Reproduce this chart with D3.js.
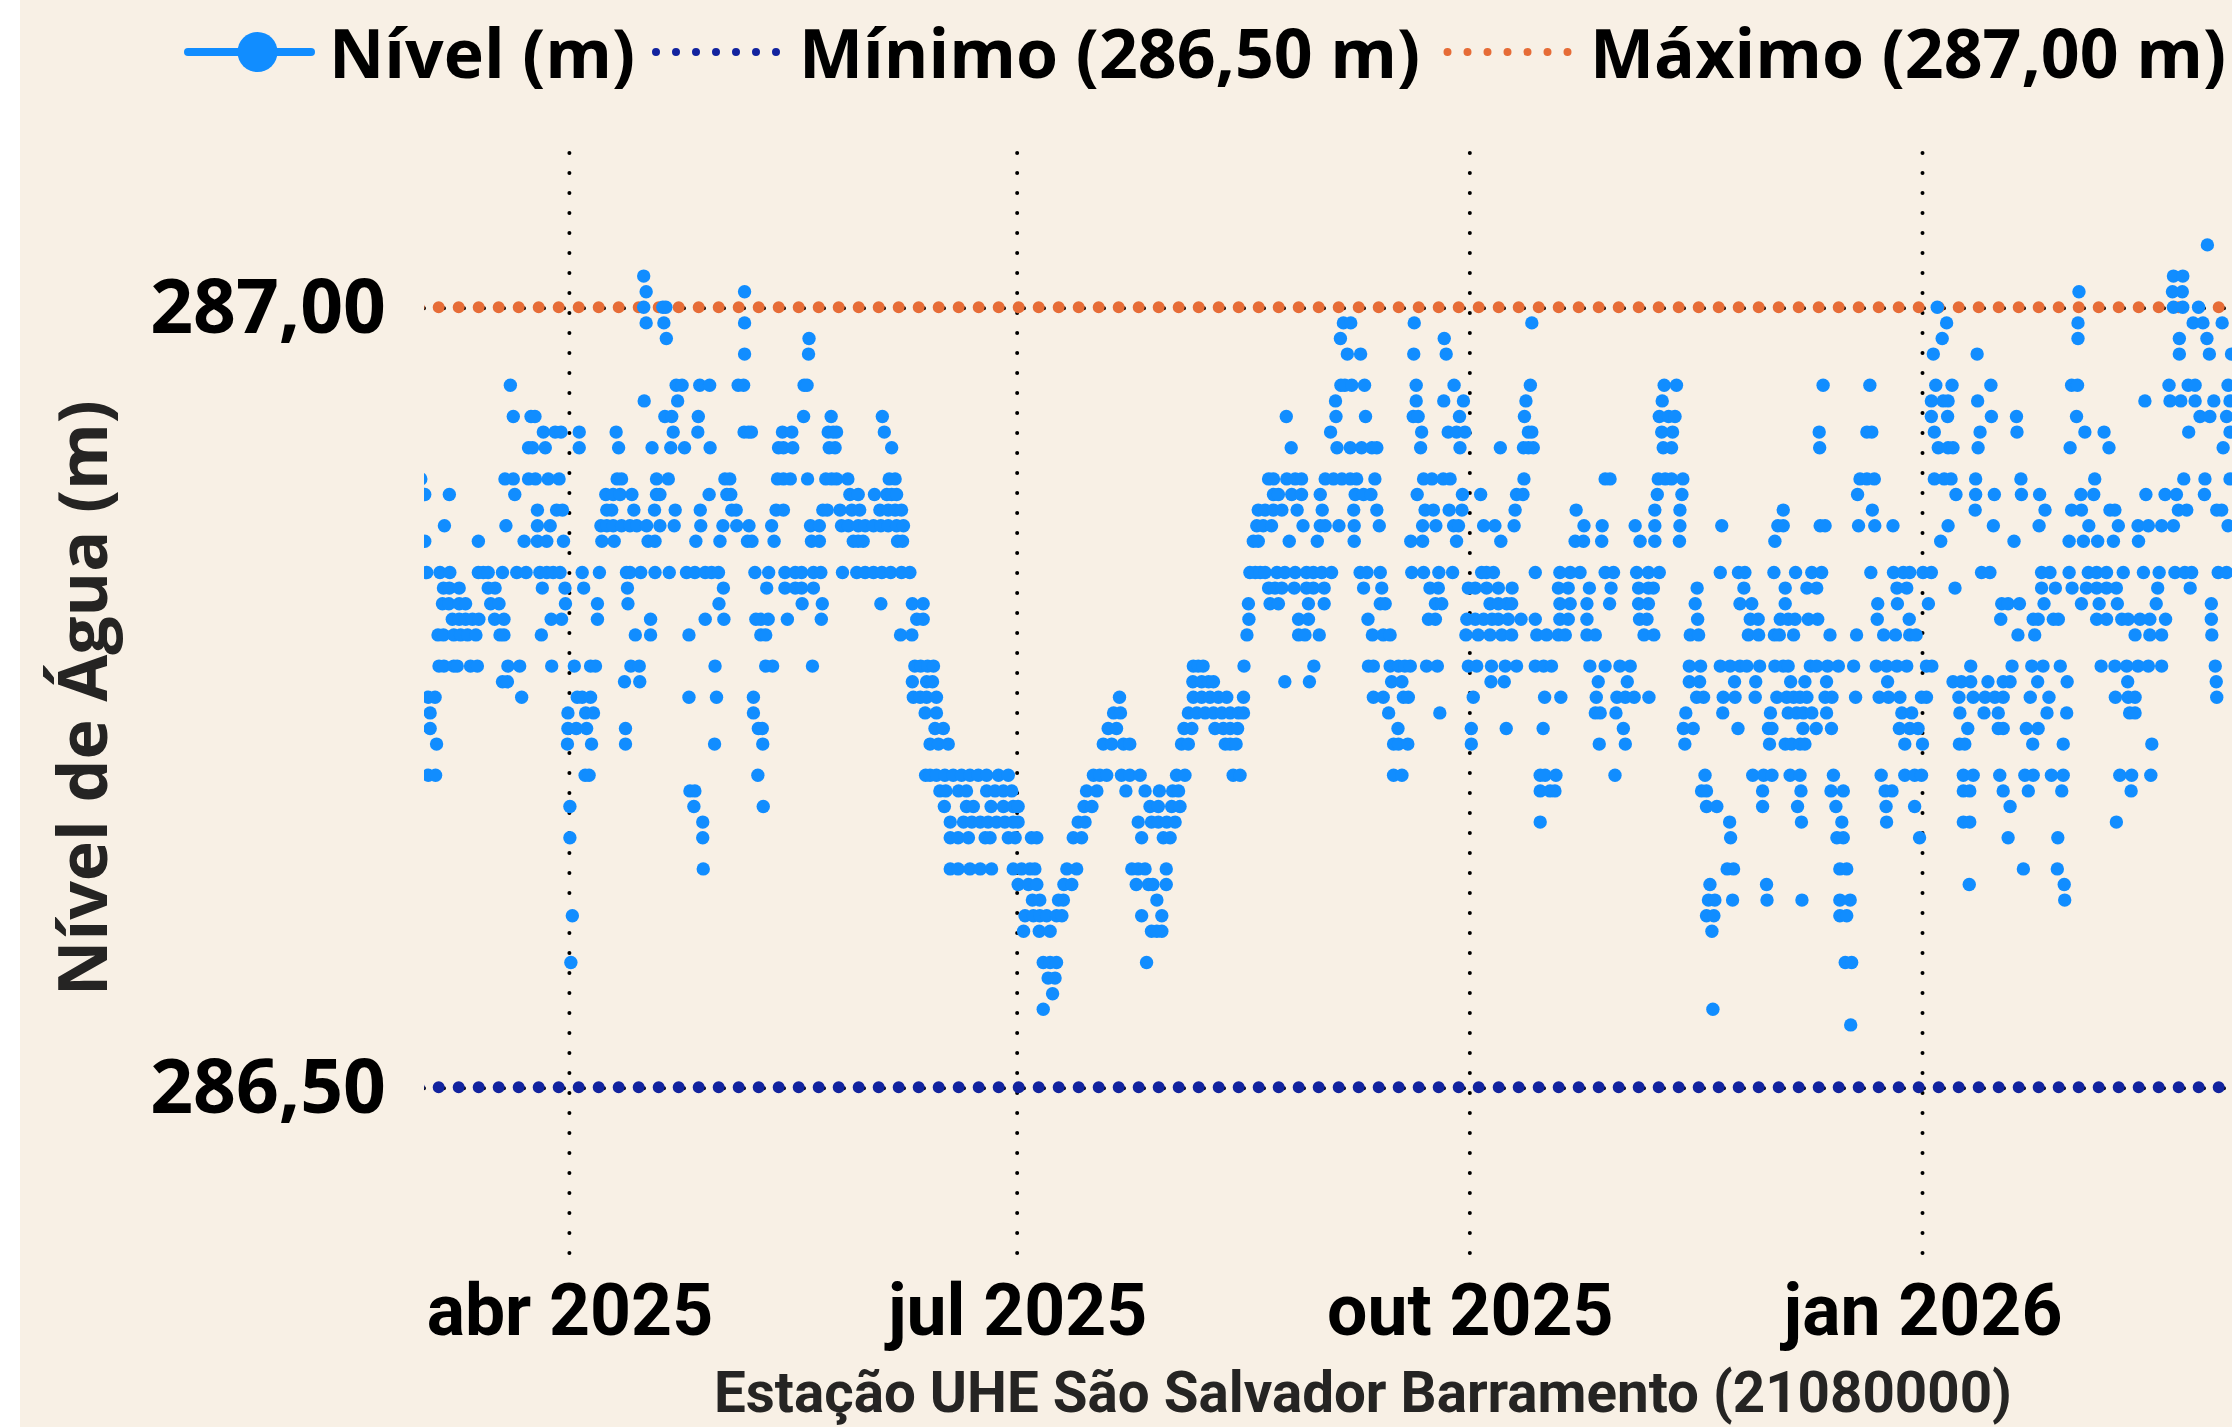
<!DOCTYPE html>
<html lang="pt-BR">
<head>
    <meta charset="UTF-8">
    <title>Nível de Água</title>
    <script src="https://cdnjs.cloudflare.com/ajax/libs/d3/7.8.5/d3.min.js"></script>
    <style>
        html, body {
            margin: 0;
            padding: 0;
            background: #fff;
            overflow: hidden;
        }
        svg {
            display: block;
        }
        .tick line, .domain {
            display: none;
        }
        .legend-label {
            font-family: "Open Sans", sans-serif;
            font-weight: 700;
            font-size: 68px;
            fill: #000;
        }
        .y-axis text {
            font-family: "Open Sans", sans-serif;
            font-weight: 700;
            font-size: 75px;
            fill: #000;
        }
        .x-axis text {
            font-family: Roboto, sans-serif;
            font-weight: 700;
            font-size: 71.5px;
            fill: #000;
        }
        .y-title {
            font-family: "Open Sans", sans-serif;
            font-weight: 700;
            font-size: 68px;
            fill: #252423;
            text-anchor: middle;
        }
        .x-title {
            font-family: Roboto, sans-serif;
            font-weight: 700;
            font-size: 56.5px;
            fill: #252423;
            text-anchor: middle;
        }
    </style>
</head>
<body>
    <div id="wrapper"></div>
    <script>
        // leituras do gráfico: dias contados a partir de 1 abr 2025, agrupados por nível (m)
        const levels = [287.04, 287.02, 287.01, 287.00, 286.99, 286.98, 286.97, 286.95, 286.94, 286.93,
            286.92, 286.91, 286.89, 286.88, 286.87, 286.86, 286.85, 286.83, 286.82, 286.81,
            286.80, 286.79, 286.77, 286.76, 286.75, 286.74, 286.73, 286.72, 286.70, 286.69,
            286.68, 286.67, 286.66, 286.64, 286.63, 286.62, 286.61, 286.60, 286.58, 286.57,
            286.56, 286.55, 286.54]
        const daysAtLevel = [
            [332.9],
            [15.1, 326.0, 327.9],
            [15.6, 35.6, 306.8, 325.8, 327.8],
            [15.1, 19.0, 19.6, 278.0, 326.0, 327.9, 331.1],
            [15.6, 19.2, 35.6, 157.3, 158.8, 171.7, 195.6, 279.9, 306.6, 330.0, 332.0, 335.9],
            [19.7, 48.7, 156.7, 177.8, 279.0, 306.6, 327.2, 332.8],
            [35.6, 48.6, 158.1, 160.8, 171.6, 178.2, 277.2, 286.1, 327.2, 333.3, 337.8],
            [-12.0, 21.7, 22.9, 26.5, 28.5, 34.3, 35.4, 47.7, 48.3, 156.8, 157.6, 159.0, 161.6, 172.1, 179.8, 195.3, 222.5, 225.0, 254.8, 264.3, 277.7, 281.0, 288.9, 305.3, 306.5, 325.1, 329.0, 330.4, 337.1],
            [15.2, 22.0, 155.7, 172.1, 177.7, 181.7, 194.4, 222.1, 276.8, 279.2, 280.2, 286.2, 320.2, 325.3, 327.5, 330.4, 334.2, 337.5],
            [-11.4, -7.8, -7.0, 19.4, 20.8, 26.2, 47.6, 53.2, 63.6, 145.7, 155.8, 161.8, 171.5, 172.5, 180.9, 194.1, 221.5, 223.4, 224.7, 276.8, 280.1, 289.0, 294.1, 306.3, 331.4, 333.4, 336.8],
            [-5.3, -2.9, -1.7, 2.0, 9.5, 21.1, 26.1, 35.5, 36.4, 37.0, 43.3, 45.2, 52.6, 53.6, 54.3, 64.0, 154.7, 173.2, 178.6, 180.3, 182.0, 194.9, 195.6, 222.0, 224.2, 254.0, 263.7, 264.7, 277.4, 286.7, 294.2, 308.0, 311.9, 329.1, 337.5],
            [-8.3, -7.5, -4.9, 2.0, 10.0, 16.8, 20.6, 23.4, 28.6, 42.5, 43.5, 45.4, 52.8, 54.0, 65.5, 146.7, 156.0, 158.7, 161.0, 163.1, 164.1, 173.0, 181.0, 189.2, 193.9, 194.9, 195.9, 222.3, 224.0, 254.1, 278.2, 280.2, 281.2, 286.3, 305.0, 312.9, 336.1],
            [-30.2, -13.1, -11.4, -8.3, -6.9, -4.3, -2.1, 9.7, 10.6, 17.7, 20.1, 31.6, 32.6, 42.3, 43.5, 44.9, 48.4, 52.1, 53.3, 54.3, 56.6, 65.0, 66.2, 142.1, 143.1, 145.8, 147.5, 148.8, 153.6, 155.3, 157.0, 158.7, 160.0, 163.7, 173.6, 175.3, 177.6, 179.0, 194.0, 210.5, 211.5, 221.3, 222.7, 224.0, 226.3, 262.3, 263.7, 265.2, 277.4, 279.4, 280.8, 285.8, 295.0, 310.0, 328.1, 332.4, 337.5],
            [-29.4, -24.4, -11.1, 7.4, 8.9, 10.3, 12.7, 17.7, 18.4, 28.4, 32.0, 32.8, 57.0, 58.7, 62.0, 64.5, 65.5, 66.5, 143.1, 144.1, 146.8, 148.8, 152.6, 159.7, 161.4, 162.9, 172.3, 181.5, 185.2, 192.5, 193.8, 221.1, 226.1, 261.8, 281.8, 285.8, 289.6, 295.1, 298.8, 307.2, 309.8, 320.4, 324.3, 326.6, 332.3],
            [-6.5, -2.6, -1.4, 7.6, 8.6, 13.1, 17.3, 21.5, 26.6, 33.0, 33.9, 42.0, 43.5, 51.5, 52.4, 55.0, 57.4, 59.0, 63.1, 64.8, 66.2, 67.5, 140.0, 141.4, 143.1, 144.8, 147.9, 153.0, 159.4, 164.1, 173.9, 175.6, 178.8, 181.4, 192.2, 204.6, 220.6, 225.7, 246.7, 264.8, 285.7, 299.9, 305.3, 307.3, 313.1, 314.1, 327.0, 328.7, 334.8, 335.8],
            [-25.4, -12.9, -6.5, -3.9, 6.4, 7.6, 8.9, 10.6, 12.3, 13.7, 15.7, 18.4, 21.3, 26.7, 31.2, 34.0, 36.5, 41.1, 49.0, 50.8, 55.3, 56.7, 58.7, 60.1, 61.8, 63.3, 64.8, 66.5, 67.9, 139.7, 141.0, 142.7, 149.1, 152.6, 153.6, 156.4, 159.5, 164.6, 173.4, 176.1, 179.7, 180.7, 185.8, 188.1, 192.0, 206.2, 209.9, 216.6, 220.6, 225.7, 234.2, 245.6, 246.7, 254.2, 255.2, 262.0, 265.3, 269.0, 280.2, 289.4, 298.7, 308.8, 314.8, 318.8, 320.9, 323.6, 326.0, 337.1],
            [-29.4, -18.5, -9.2, -6.5, -4.6, -1.2, 6.6, 9.1, 16.0, 17.4, 25.7, 30.6, 36.2, 37.1, 41.6, 49.2, 50.8, 57.7, 58.7, 59.7, 66.7, 67.7, 139.0, 140.0, 146.3, 152.0, 159.5, 171.0, 173.4, 180.3, 189.3, 204.4, 206.1, 209.8, 217.6, 220.6, 225.6, 245.0, 278.7, 293.6, 304.8, 307.7, 310.6, 313.8, 318.9],
            [-29.0, -26.3, -24.3, -18.5, -17.5, -16.5, -13.6, -10.7, -8.8, -6.0, -4.6, -3.3, -1.9, 2.6, 6.1, 11.6, 12.3, 14.5, 17.4, 20.3, 23.8, 25.5, 27.6, 28.9, 30.3, 37.7, 40.5, 43.8, 45.9, 47.2, 49.6, 51.1, 55.5, 58.4, 60.1, 61.8, 63.5, 65.3, 67.5, 69.2, 138.3, 139.4, 140.4, 141.4, 143.8, 145.4, 147.5, 149.8, 151.2, 152.9, 154.9, 160.7, 162.1, 164.8, 171.2, 173.6, 176.7, 179.5, 185.4, 186.4, 187.8, 196.3, 201.3, 203.4, 205.4, 210.5, 212.2, 216.9, 219.3, 221.5, 233.9, 237.6, 238.9, 244.8, 249.2, 252.5, 254.5, 264.5, 269.1, 271.1, 272.4, 275.1, 276.8, 287.0, 288.7, 299.2, 300.9, 304.8, 308.7, 310.4, 312.4, 315.8, 319.9, 323.1, 326.3, 328.3, 329.7, 335.1, 336.8],
            [-25.6, -24.4, -22.4, -16.5, -15.1, -5.5, -0.9, 2.9, 11.8, 31.3, 40.1, 43.8, 45.9, 47.2, 49.6, 142.1, 143.4, 144.8, 147.3, 149.8, 151.2, 153.4, 161.4, 165.1, 174.9, 176.6, 182.7, 184.1, 186.4, 188.8, 191.6, 201.0, 203.0, 207.3, 211.7, 217.3, 219.3, 220.3, 229.2, 238.7, 247.1, 251.5, 253.5, 269.8, 271.8, 281.6, 299.2, 302.0, 305.4, 308.3, 310.4, 312.4, 314.4, 322.8, 329.4],
            [-25.8, -24.5, -22.4, -21.1, -16.0, -14.3, -0.8, 5.7, 11.9, 30.4, 47.3, 51.4, 63.3, 69.7, 71.9, 138.0, 142.4, 144.1, 150.2, 153.4, 164.8, 165.8, 176.0, 177.3, 187.1, 188.8, 190.5, 191.5, 201.3, 203.4, 206.8, 211.4, 217.3, 219.3, 228.8, 237.9, 240.3, 247.1, 265.9, 269.9, 276.2, 291.1, 292.4, 294.7, 299.7, 307.3, 310.9, 314.6, 322.5, 333.7],
            [-23.8, -22.4, -21.1, -19.7, -18.4, -15.2, -13.3, -3.7, -1.6, 5.7, 16.5, 27.6, 31.4, 37.9, 38.9, 40.4, 44.3, 51.2, 70.6, 71.9, 138.1, 148.2, 150.2, 162.3, 174.6, 176.0, 182.4, 184.1, 185.8, 187.5, 188.8, 190.8, 193.4, 196.3, 201.3, 203.0, 206.8, 217.5, 219.0, 229.3, 240.0, 241.6, 246.1, 247.7, 249.1, 251.8, 253.7, 265.8, 272.3, 290.9, 297.5, 298.5, 301.6, 302.6, 310.4, 312.4, 315.5, 316.8, 319.2, 321.2, 324.4, 333.7],
            [-26.7, -25.6, -23.5, -22.1, -20.7, -19.0, -14.1, -13.3, -5.7, 13.4, 16.5, 24.3, 38.9, 39.9, 67.3, 69.6, 137.7, 148.2, 149.5, 152.4, 163.2, 165.4, 166.8, 182.2, 184.7, 187.1, 189.5, 191.5, 196.6, 198.6, 201.0, 202.4, 206.8, 208.5, 218.4, 220.4, 227.8, 229.5, 239.6, 241.7, 244.9, 245.9, 248.8, 256.2, 261.6, 267.1, 269.5, 272.4, 273.7, 294.4, 297.8, 318.2, 321.2, 323.6, 333.8],
            [-26.5, -25.5, -23.5, -22.8, -20.1, -18.7, -12.5, -10.1, -3.6, 1.0, 4.3, 5.3, 12.5, 14.2, 29.6, 39.9, 41.3, 49.4, 70.2, 71.4, 72.8, 74.0, 126.8, 127.8, 128.8, 137.1, 151.3, 162.4, 163.4, 166.8, 168.5, 169.8, 170.9, 174.2, 176.4, 182.7, 184.4, 187.4, 190.2, 192.5, 196.3, 198.0, 199.6, 207.4, 210.5, 213.5, 215.6, 227.6, 229.9, 233.9, 235.9, 237.9, 239.3, 241.9, 245.0, 246.7, 247.7, 252.2, 253.5, 255.7, 257.9, 261.0, 265.6, 267.7, 269.8, 271.8, 275.8, 276.9, 284.8, 293.2, 297.2, 299.5, 303.0, 311.3, 314.1, 316.5, 318.8, 320.9, 323.6, 334.5],
            [-13.6, -12.6, 11.2, 14.3, 69.7, 72.6, 73.8, 126.7, 128.5, 129.9, 130.9, 145.4, 150.4, 167.1, 169.2, 187.3, 190.0, 209.1, 215.0, 227.6, 229.7, 236.8, 241.1, 248.2, 251.1, 255.5, 267.9, 281.2, 282.9, 284.8, 288.3, 291.4, 292.8, 298.4, 304.4, 316.7, 334.7],
            [-28.7, -27.3, -9.7, 1.6, 2.6, 4.3, 24.3, 29.9, 37.4, 69.9, 71.3, 72.6, 74.6, 111.8, 126.8, 128.5, 130.2, 131.9, 133.6, 137.0, 163.4, 165.4, 169.5, 170.5, 183.7, 198.2, 201.5, 208.7, 212.9, 214.6, 216.4, 219.4, 229.1, 230.5, 234.5, 236.9, 241.0, 245.4, 247.4, 248.8, 250.1, 251.5, 255.2, 256.6, 261.4, 266.2, 268.1, 270.4, 274.8, 275.8, 282.4, 285.3, 287.7, 289.7, 291.4, 296.9, 300.7, 314.2, 316.8, 318.2, 334.8],
            [-28.3, -0.3, 3.3, 4.9, 37.4, 72.3, 74.6, 110.6, 112.0, 125.8, 127.5, 129.2, 130.9, 132.6, 134.3, 136.0, 137.0, 166.5, 176.9, 208.5, 209.5, 212.7, 226.9, 234.4, 244.1, 247.7, 249.4, 250.8, 252.5, 255.5, 270.8, 272.8, 282.6, 287.5, 290.4, 300.3, 304.3, 317.1, 318.2],
            [-28.3, -0.3, 1.4, 3.5, 11.4, 38.4, 39.2, 74.3, 76.0, 109.5, 111.2, 124.9, 126.5, 131.2, 132.9, 134.3, 135.8, 168.4, 183.3, 190.4, 197.9, 214.2, 226.4, 228.4, 237.5, 243.7, 244.4, 250.7, 253.4, 256.5, 270.3, 272.4, 274.1, 284.2, 290.4, 291.4, 296.1, 298.5],
            [-27.0, -0.4, 4.5, 11.4, 29.5, 39.3, 73.3, 75.0, 77.0, 108.5, 110.2, 112.6, 113.9, 124.4, 125.8, 133.3, 134.3, 135.5, 167.5, 168.5, 170.4, 183.3, 209.3, 214.6, 226.7, 243.9, 247.1, 248.4, 250.1, 251.1, 271.4, 275.0, 282.5, 283.6, 297.4, 303.6, 321.6],
            [-28.7, -27.2, 3.2, 4.0, 38.3, 72.4, 73.3, 74.6, 76.3, 78.0, 79.7, 81.4, 83.1, 84.8, 87.2, 89.2, 106.5, 107.8, 109.2, 112.2, 113.9, 116.0, 123.4, 125.1, 134.9, 136.3, 167.5, 169.2, 197.3, 198.3, 200.5, 212.5, 230.8, 240.5, 242.7, 244.4, 248.1, 250.1, 256.9, 266.6, 271.4, 273.4, 274.8, 283.3, 285.3, 290.7, 295.8, 297.5, 301.2, 303.6, 315.1, 317.5, 321.4],
            [24.5, 25.5, 75.3, 76.5, 79.1, 80.7, 84.8, 86.5, 88.2, 89.9, 105.1, 107.2, 113.1, 117.0, 119.9, 122.6, 123.8, 197.3, 199.3, 200.3, 230.1, 231.1, 242.5, 250.3, 256.4, 258.9, 267.4, 268.8, 283.3, 284.6, 291.4, 296.5, 303.3, 317.4],
            [0.1, 25.3, 39.4, 76.2, 80.7, 82.1, 85.7, 88.2, 90.2, 91.2, 104.6, 106.2, 118.0, 119.7, 122.4, 124.1, 231.1, 233.2, 242.5, 249.6, 257.4, 267.6, 273.4, 292.8],
            [27.1, 77.4, 80.1, 81.8, 83.5, 85.1, 86.8, 88.5, 90.2, 91.2, 103.4, 104.8, 115.6, 118.3, 119.7, 121.4, 123.1, 197.3, 235.8, 250.4, 258.6, 267.7, 283.3, 284.6, 314.4],
            [0.1, 27.1, 77.4, 79.0, 81.1, 84.5, 85.5, 89.2, 90.6, 93.9, 95.0, 102.4, 104.1, 116.3, 120.7, 122.1, 236.0, 257.6, 258.9, 274.4, 292.4, 302.5],
            [27.2, 77.4, 79.0, 81.4, 83.5, 85.8, 90.2, 91.9, 93.6, 94.6, 101.1, 103.1, 114.3, 115.6, 117.0, 121.3, 235.3, 236.6, 258.2, 259.6, 295.5, 302.4],
            [91.2, 93.3, 95.0, 100.5, 102.1, 115.2, 117.7, 118.6, 121.3, 231.8, 243.3, 284.5, 303.8],
            [94.1, 95.6, 99.4, 100.4, 119.4, 231.5, 232.8, 236.4, 243.4, 250.5, 258.2, 260.3, 303.9],
            [0.6, 92.6, 94.3, 95.6, 97.0, 99.0, 100.1, 116.3, 120.4, 231.1, 232.6, 258.2, 259.6],
            [92.3, 95.5, 97.7, 118.3, 119.4, 120.4, 232.2],
            [0.3, 96.3, 97.7, 99.0, 117.3, 259.3, 260.6],
            [97.3, 98.7],
            [98.2],
            [96.3, 232.4],
            [260.4],
        ]
        const minLevel = 286.5
        const maxLevel = 287.0
        const monthTicks = ["2025-04-01", "2025-07-01", "2025-10-01", "2026-01-01"]
        const monthLabels = ["abr 2025", "jul 2025", "out 2025", "jan 2026"]
        const levelTicks = [286.5, 287.0]
        const levelLabels = ["286,50", "287,00"]
        const legendLabels = ["Nível (m)", "Mínimo (286,50 m)", "Máximo (287,00 m)"]

        const colors = { level: "#118DFF", min: "#12239E", max: "#E66C37", grid: "#000", background: "#F8F0E5" }

        const dimensions = { width: 2232, height: 1427, left: 424, right: 2232, top: 153, bottom: 1255 }

        const origin = Date.UTC(2025, 3, 1)
        const dayToDate = d => new Date(origin + d * 864e5)

        const points = d3.merge(levels.map((level, i) => daysAtLevel[i].map(day => ({ date: dayToDate(day), level }))))

        const wrapper = d3.select("#wrapper")
            .append("svg")
            .attr("width", dimensions.width)
            .attr("height", dimensions.height)

        wrapper.append("rect")
            .attr("x", 20)
            .attr("width", dimensions.width - 20)
            .attr("height", dimensions.height)
            .attr("fill", colors.background)

        wrapper.append("clipPath")
            .attr("id", "plot-clip")
            .append("rect")
            .attr("x", dimensions.left)
            .attr("y", 0)
            .attr("width", dimensions.right - dimensions.left)
            .attr("height", dimensions.height)

        // scales
        const xScale = d3.scaleUtc()
            .domain([dayToDate(-29.55), dayToDate(337.9)])
            .range([dimensions.left, dimensions.right])

        const yScale = d3.scaleLinear()
            .domain([286.3925, 287.0989])
            .range([dimensions.bottom, dimensions.top])

        const plot = wrapper.append("g").attr("clip-path", "url(#plot-clip)")

        // dotted grid
        const dotted = (selection, color, width) => selection
            .attr("stroke", color)
            .attr("stroke-width", width)
            .attr("stroke-linecap", "round")
            .attr("stroke-dasharray", "0 20")
            .attr("fill", "none")

        plot.append("g")
            .selectAll("line")
            .data(monthTicks)
            .join("line")
            .attr("x1", d => xScale(new Date(d)))
            .attr("x2", d => xScale(new Date(d)))
            .attr("y1", dimensions.top)
            .attr("y2", dimensions.bottom)
            .call(dotted, colors.grid, 4)

        plot.append("g")
            .selectAll("line")
            .data(levelTicks)
            .join("line")
            .attr("x1", dimensions.left)
            .attr("x2", dimensions.right)
            .attr("y1", d => yScale(d) + 1)
            .attr("y2", d => yScale(d) + 1)
            .call(dotted, colors.grid, 4)

        // min / max lines
        plot.selectAll(".limit")
            .data([{ value: minLevel, color: colors.min }, { value: maxLevel, color: colors.max }])
            .join("line")
            .attr("class", "limit")
            .attr("x1", dimensions.left - 5.3)
            .attr("x2", dimensions.right)
            .attr("y1", d => yScale(d.value))
            .attr("y2", d => yScale(d.value))
            .each(function (d) { d3.select(this).call(dotted, d.color, 12) })

        // level points
        plot.append("g")
            .selectAll("circle")
            .data(points)
            .join("circle")
            .attr("cx", d => xScale(d.date))
            .attr("cy", d => yScale(d.level))
            .attr("r", 6.7)
            .attr("fill", colors.level)

        // axes
        const yAxis = d3.axisLeft(yScale)
            .tickValues(levelTicks)
            .tickSize(0)
            .tickPadding(38)
            .tickFormat((d, i) => levelLabels[i])

        wrapper.append("g")
            .attr("class", "y-axis")
            .attr("transform", `translate(${dimensions.left},0)`)
            .call(yAxis)
            .selectAll("text")
            .attr("dy", "0.34em")

        const xAxis = d3.axisBottom(xScale)
            .tickValues(monthTicks.map(d => new Date(d)))
            .tickSize(0)
            .tickFormat((d, i) => monthLabels[i])

        wrapper.append("g")
            .attr("class", "x-axis")
            .attr("transform", `translate(0,${dimensions.bottom})`)
            .call(xAxis)
            .selectAll("text")
            .attr("y", 80)
            .attr("dy", 0)

        wrapper.append("text")
            .attr("class", "y-title")
            .attr("transform", "translate(107,698) rotate(-90)")
            .text("Nível de Água (m)")

        // baseline kept high enough that the line box of the title stays inside the picture
        wrapper.append("text")
            .attr("class", "x-title")
            .attr("x", 1363)
            .attr("y", 1412)
            .text("Estação UHE São Salvador Barramento (21080000)")

        // legend
        const legend = wrapper.append("g").attr("class", "legend")
        const legendY = 52

        legend.append("line")
            .attr("x1", 188)
            .attr("x2", 311)
            .attr("y1", legendY)
            .attr("y2", legendY)
            .attr("stroke", colors.level)
            .attr("stroke-width", 8)
            .attr("stroke-linecap", "round")
        legend.append("circle")
            .attr("cx", 257.5)
            .attr("cy", legendY)
            .attr("r", 20)
            .attr("fill", colors.level)

        legend.append("line")
            .attr("x1", 656)
            .attr("x2", 777)
            .attr("y1", legendY)
            .attr("y2", legendY)
            .call(dotted, colors.min, 8)
        legend.append("line")
            .attr("x1", 1447.5)
            .attr("x2", 1569)
            .attr("y1", legendY)
            .attr("y2", legendY)
            .call(dotted, colors.max, 8)

        legend.selectAll("text")
            .data(legendLabels)
            .join("text")
            .attr("class", "legend-label")
            .attr("x", (d, i) => [329, 799, 1590][i])
            .attr("y", 78)
            .text(d => d)
    </script>
</body>
</html>
